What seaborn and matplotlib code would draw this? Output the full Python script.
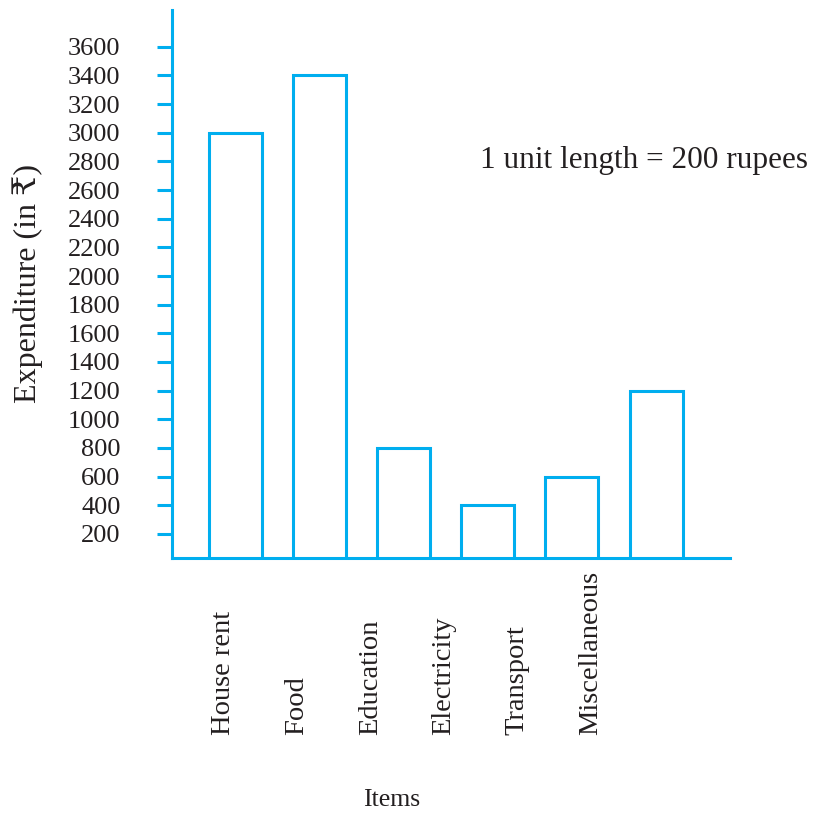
"""
Monthly expenditure bar graph (outlined bars, NCERT style)
"""
import matplotlib
matplotlib.use("Agg")
import matplotlib.pyplot as plt
import matplotlib.transforms as mtransforms
import seaborn as sns

ITEMS = ["House rent", "Food", "Education", "Electricity", "Transport", "Miscellaneous"]
EXPENDITURE = [3000, 3400, 800, 400, 600, 1200]
Y_TICKS = list(range(200, 3601, 200))

CYAN = "#00AEEF"
TEXT = "#231F20"

sns.set_theme(style="white")
plt.rcParams["font.family"] = ["Liberation Serif", "DejaVu Serif", "DejaVu Sans"]

fig = plt.figure(figsize=(8.15, 8.14), dpi=100)
ax = fig.add_axes([0.211, 0.3145, 0.685, 0.6735])

sns.barplot(x=ITEMS, y=EXPENDITURE, fill=False, color=CYAN, width=0.63,
            linewidth=2.2, ax=ax)

ax.set_xlim(-0.75, 5.88)
ax.set_ylim(32, 3858)
ax.set_yticks(Y_TICKS)
ax.set_yticklabels([str(t) for t in Y_TICKS], fontsize=19, color=TEXT)
ax.tick_params(axis="y", direction="out", length=11, width=2.2, color=CYAN, pad=26, left=True)

# x labels sit a bit left of the bars, bottom-aligned
ax.set_xticks([])
trans = mtransforms.blended_transform_factory(ax.transData, fig.transFigure)
for i, name in enumerate(ITEMS):
    ax.text(i * 0.873 - 0.14, 0.097, name, rotation=90, ha="center", va="bottom",
            fontsize=20.5, color=TEXT, transform=trans)

for side in ["top", "right"]:
    ax.spines[side].set_visible(False)
for side in ["left", "bottom"]:
    ax.spines[side].set_color(CYAN)
    ax.spines[side].set_linewidth(2.2)

ax.set_xlabel("")
ax.set_ylabel("Expenditure (in ₹)", fontsize=23, color=TEXT)
ax.yaxis.set_label_coords(-0.231, 0.5)

fig.text(392 / 815, 0.017, "Items", ha="center", va="center", fontsize=18.5, color=TEXT)
fig.text(480 / 815, 0.803, "1 unit length = 200 rupees", ha="left", va="center",
         fontsize=22.5, color=TEXT)

fig.savefig("out.png", dpi=100)
